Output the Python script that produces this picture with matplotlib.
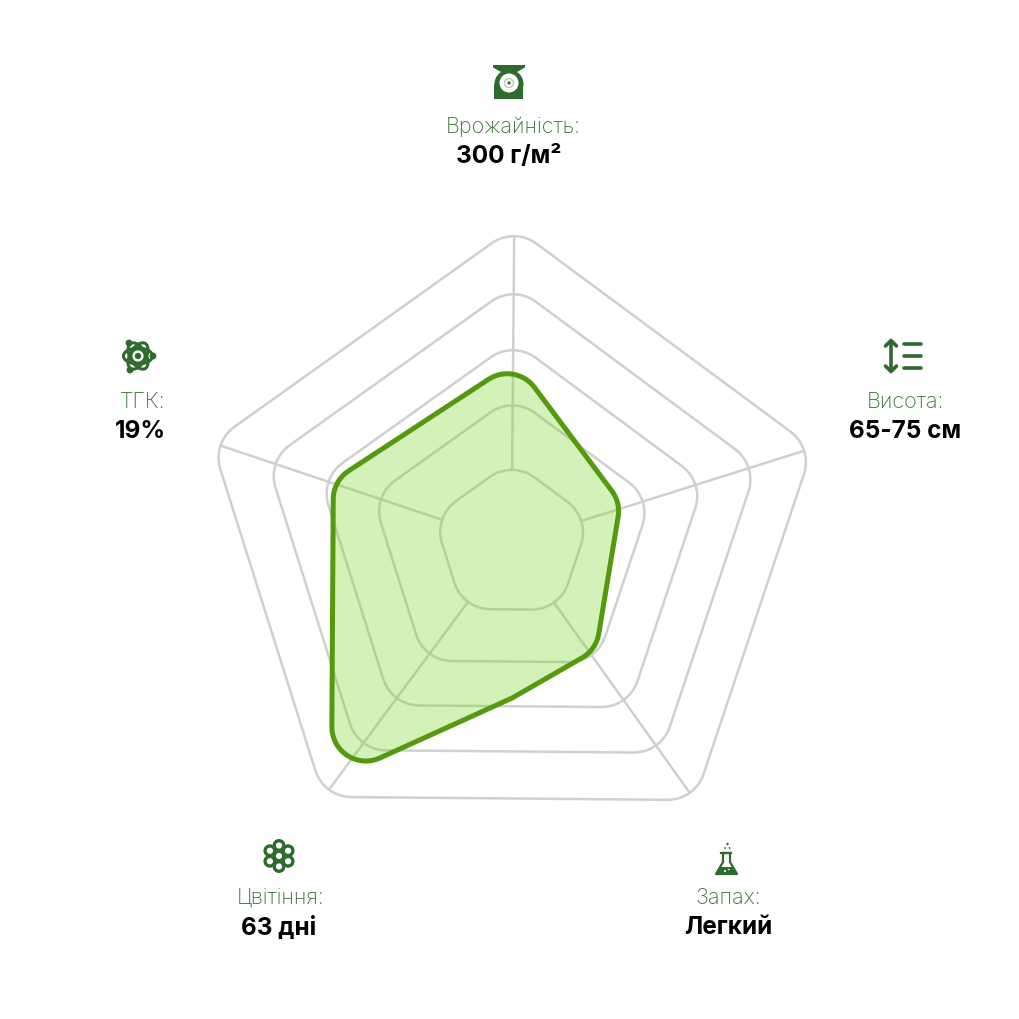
import numpy as np
import matplotlib
matplotlib.use("Agg")
import matplotlib.pyplot as plt
from matplotlib.patches import Circle, Ellipse, Polygon, Rectangle

# chart data
axis_names = ["Врожайність:", "Висота:", "Запах:", "Цвітіння:", "ТГК:"]
axis_values = ["300 г/м²", "65-75 см", "Легкий", "63 дні", "19%"]
ring_values = [1.44, 2.57, 3.54, 4.52, 5.54]
# position along the spokes (0 = top, going clockwise), value read from the rings
series_pos = [0.01, 0.96, 1.96, 2.49, 3.01, 4.01]
series_values = [3.18, 2.04, 2.39, 2.72, 5.22, 3.31]

# label anchors (x, y) for name and value lines
name_xy = [(513, 127), (905, 402), (728, 898), (281, 898), (143, 402)]
value_xy = [(509, 156), (905, 432), (728, 928), (279, 928), (140, 432)]

CX, CY = 511.5, 544
ROT = -0.5
GRID = "#d0d0d0"
ICON = "#2f6b2e"
LABEL = "#3f7639"
LINE = "#54990f"
FONT = ["Inter", "Noto Sans", "DejaVu Sans"]


def to_xy(pos, value):
    r = 57 * np.asarray(value, dtype=float)
    a = np.radians(90 + ROT - 72 * np.asarray(pos, dtype=float))
    return CX + r * np.cos(a), CY - r * np.sin(a)


def rounded(xs, ys, radius):
    # closed polygon with circular arcs on the corners
    pts = np.column_stack([xs, ys])
    n = len(pts)
    out = []
    for i in range(n):
        p, prev, nxt = pts[i], pts[i - 1], pts[(i + 1) % n]
        u = (prev - p) / np.linalg.norm(prev - p)
        v = (nxt - p) / np.linalg.norm(nxt - p)
        ang = np.arccos(np.clip(u @ v, -1, 1))
        d = radius / np.tan(ang / 2)
        a, b = p + u * d, p + v * d
        c = p + (u + v) / np.linalg.norm(u + v) * radius / np.sin(ang / 2)
        a0 = np.arctan2(*(a - c)[::-1])
        a1 = np.arctan2(*(b - c)[::-1])
        da = (a1 - a0 + np.pi) % (2 * np.pi) - np.pi
        for t in np.linspace(0, 1, 16):
            out.append(c + radius * np.array([np.cos(a0 + da * t), np.sin(a0 + da * t)]))
    return np.array(out)


fig = plt.figure(figsize=(10.2, 10.2), dpi=100)
ax = fig.add_axes([0, 0, 1, 1])
ax.set_xlim(0, 1020)
ax.set_ylim(1020, 0)
ax.axis("off")

# grid rings
for val in ring_values:
    x, y = to_xy(np.arange(5), [val] * 5)
    ax.add_patch(Polygon(rounded(x, y, 38), closed=True, fill=False, ec=GRID, lw=1.8, zorder=1))

# spokes
for i in range(5):
    x, y = to_xy([i, i], [ring_values[0] - 0.16, ring_values[-1] - 0.16])
    ax.plot(x, y, color=GRID, lw=1.8, zorder=1)

# series
x, y = to_xy(series_pos, series_values)
shape = rounded(x, y, 34)
ax.add_patch(Polygon(shape, closed=True, fc=(119 / 255, 216 / 255, 46 / 255, 0.33), ec="none", zorder=2))
ax.add_patch(Polygon(shape, closed=True, fill=False, ec=LINE, lw=3.6, joinstyle="round", zorder=3))

# labels
for name, val, nxy, vxy in zip(axis_names, axis_values, name_xy, value_xy):
    ax.text(*nxy, name, ha="center", va="center", fontsize=15.5, color=LABEL, family=FONT, fontweight="light")
    ax.text(*vxy, val, ha="center", va="center", fontsize=17.5, color="black", family=FONT, fontweight="bold")

# icon: scales
ax.add_patch(Polygon([(493, 66), (525, 66), (525, 68.5), (517, 73), (501, 73), (493, 68.5)], fc=ICON, ec="none"))
ax.add_patch(Circle((509, 85), 14.5, fc=ICON, ec="none"))
ax.add_patch(Rectangle((494.5, 85), 29, 14.5, fc=ICON, ec="none"))
ax.add_patch(Circle((509, 84), 9.5, fc="white", ec="none"))
ax.add_patch(Circle((509, 84), 4.5, fc="none", ec="#b5ccb4", lw=1))
ax.add_patch(Circle((509, 84), 1.6, fc=ICON, ec="none"))

# icon: height arrows and bars
ax.plot([891, 891], [343, 371], color=ICON, lw=2.6, solid_capstyle="round")
ax.plot([885.5, 891, 896.5], [347, 341.5, 347], color=ICON, lw=2.6, solid_capstyle="round")
ax.plot([885.5, 891, 896.5], [367, 372.5, 367], color=ICON, lw=2.6, solid_capstyle="round")
for by in (345, 357, 369):
    ax.plot([904, 921], [by, by], color=ICON, lw=2.6, solid_capstyle="round")

# icon: atom
for ang in (0, 60, 120):
    ax.add_patch(Ellipse((138, 357), 29, 16, angle=ang, fc="none", ec=ICON, lw=2.2))
for bx, by in ((129, 344), (153, 357), (130, 371)):
    ax.add_patch(Circle((bx, by), 3.4, fc=ICON, ec="none"))
ax.add_patch(Circle((138, 357), 7, fc="white", ec=ICON, lw=2))
ax.add_patch(Circle((138, 357), 3.2, fc=ICON, ec="none"))

# icon: flower
for k in range(6):
    a = np.radians(90 + 60 * k)
    ax.add_patch(Circle((279 + 10.5 * np.cos(a), 857 - 10.5 * np.sin(a)), 4.8, fc="white", ec=ICON, lw=2.4))
ax.add_patch(Circle((279, 857), 4.2, fc="white", ec=ICON, lw=1.6))

# icon: flask
ax.add_patch(Polygon([(723, 854), (723, 863), (716, 875), (737, 875), (730, 863), (730, 854)],
                     closed=True, fc="white", ec=ICON, lw=1.6, joinstyle="round"))
ax.plot([721.5, 731.5], [853.5, 853.5], color=ICON, lw=1.6)
ax.add_patch(Polygon([(720, 868), (733, 868), (736.5, 875), (716.5, 875)], closed=True, fc=ICON, ec="none"))
for bx, by, br in ((727.5, 845, 1.2), (725, 849, 0.9), (729.5, 849, 0.9), (725, 872, 1), (729, 870.5, 0.8)):
    ax.add_patch(Circle((bx, by), br, fc=ICON if by < 860 else "white", ec="none"))

fig.savefig("out.png", dpi=100, facecolor="white")
